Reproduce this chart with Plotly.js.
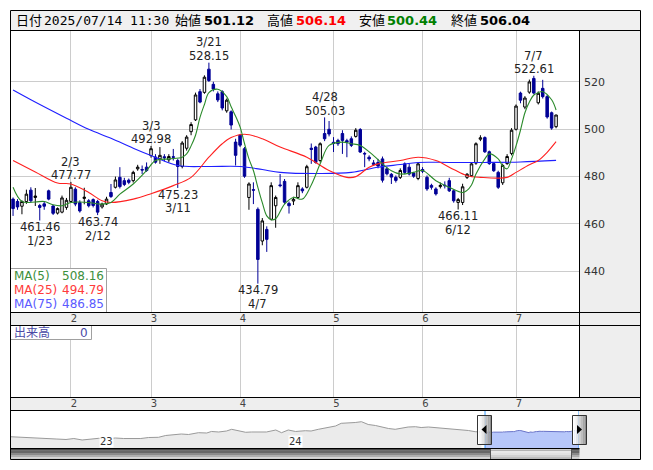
<!DOCTYPE html>
<html><head><meta charset="utf-8">
<script src="https://cdn.plot.ly/plotly-3.0.1.min.js"></script>
<style>html,body{margin:0;padding:0;background:#fff;}#chart{width:653px;height:470px;}</style>
</head><body><div id="chart"></div>
<script>
// ---------- DATA ----------
const dates = [
'2025-01-14','2025-01-15','2025-01-16','2025-01-17','2025-01-20','2025-01-21','2025-01-22','2025-01-23','2025-01-24','2025-01-27','2025-01-28','2025-01-29','2025-01-30','2025-01-31',
'2025-02-03','2025-02-04','2025-02-05','2025-02-06','2025-02-07','2025-02-10','2025-02-12','2025-02-13','2025-02-14','2025-02-17','2025-02-18','2025-02-19','2025-02-20','2025-02-21','2025-02-25','2025-02-26','2025-02-27','2025-02-28',
'2025-03-03','2025-03-04','2025-03-05','2025-03-06','2025-03-07','2025-03-10','2025-03-11','2025-03-12','2025-03-13','2025-03-14','2025-03-17','2025-03-18','2025-03-19','2025-03-21','2025-03-24','2025-03-25','2025-03-26','2025-03-27','2025-03-28','2025-03-31',
'2025-04-01','2025-04-02','2025-04-03','2025-04-04','2025-04-07','2025-04-08','2025-04-09','2025-04-10','2025-04-11','2025-04-14','2025-04-15','2025-04-16','2025-04-17','2025-04-18','2025-04-21','2025-04-22','2025-04-23','2025-04-24','2025-04-25','2025-04-28','2025-04-30',
'2025-05-01','2025-05-02','2025-05-07','2025-05-08','2025-05-09','2025-05-12','2025-05-13','2025-05-14','2025-05-15','2025-05-16','2025-05-19','2025-05-20','2025-05-21','2025-05-22','2025-05-23','2025-05-26','2025-05-27','2025-05-28','2025-05-29','2025-05-30',
'2025-06-02','2025-06-03','2025-06-04','2025-06-05','2025-06-06','2025-06-09','2025-06-10','2025-06-11','2025-06-12','2025-06-13','2025-06-16','2025-06-17','2025-06-18','2025-06-19','2025-06-20','2025-06-23','2025-06-24','2025-06-25','2025-06-26','2025-06-27','2025-06-30',
'2025-07-01','2025-07-02','2025-07-03','2025-07-04','2025-07-07','2025-07-08','2025-07-09','2025-07-10','2025-07-11','2025-07-14'];

const opens = [471.5,470.5,469.5,467.5,469.5,474.3,471.2,467.8,468.5,474,
467.6,464.6,465,467,469.5,474.7,469,470.8,469.8,470.3,
469.5,467.2,468.5,473.3,475.5,479.7,478.3,478.5,478.3,483.3,
483,484,488.9,488.3,487.5,488.4,487.1,488.4,486.8,484.3,
492,499,504,515.9,515.6,525.4,519,515,515.9,507.8,
507.4,494.6,497.5,491.8,471.2,474.5,466.2,452.8,457.7,462,
467.7,476.5,478,468.7,469.7,471.2,474.8,475.5,492,492.5,
486.8,498.2,500,494.5,495.3,498.2,495.2,496,497,499.9,
489.8,488.2,485.8,486,487.5,483.3,481,479.7,479.7,485.4,
484,481.5,479.2,483,479.7,476.3,474.8,475.8,476.4,478.3,
474,469.1,469.1,479.7,480.4,485.7,495.8,496.5,490.5,485.5,
481.8,477.4,485.5,489.8,500,515.3,509.4,515.7,521.5,511.2,
517.3,513.8,507,501.12];
const highs = [473,471.2,470.5,470,474.5,475.5,475.2,468.5,469.5,474.5,
468,467,472,471,477.77,475.5,470,475.3,470.5,470.8,
470.2,469,471.5,476.9,480,484,479.5,479.2,482.5,485,
484.7,486,492.98,489.5,492.5,489.5,489.5,491.7,487.5,495,
497.5,503,515.5,517,522.8,528.15,520.1,516,516.5,513,
508,496,498,492.5,477.6,477.6,467,462.5,459,477.6,
472,481.1,479,469.5,471.5,477.6,475.5,485,494,493,
494.5,505.03,503.5,496.7,496,499.6,496,497,500.5,500.5,
490.5,489,487,487.5,488.5,484,481.5,480.5,483.5,486,
485.5,482,486,484,480.5,477,475.5,477.5,478,479.5,
474.5,471,477,481.5,486,494.5,497.5,497,491,486,
482.5,485.5,489.5,500.5,510.5,515.9,514,521,522.61,516,
520.9,514.5,507.5,506.14];
const lows = [468.5,463.4,466,464.1,468.5,469,467.6,461.46,466,470,
463.8,464,464.5,466,469,467.5,464.8,468.3,467,467,
463.74,466.5,468,471,475,475,476,476.8,477.5,482.5,
481.1,482,488,485.5,485.4,486.5,486,486.8,475.23,483.5,
491,497.5,503.5,511,515,520,516,511.5,508,507,
499.9,484.7,492.5,479.5,466,468.4,434.79,451,448.2,461.5,
458.4,475.5,468.5,464.4,468,470.5,473,475,485.4,485.5,
486,495,497,490.4,493,489.6,488.2,492.5,496.5,490,
484,486.5,484.5,483.5,477.5,480.5,476.9,477.5,479,481,
480.5,479.5,478.5,481.5,474,474.5,472,475,475,473.5,
469,466.11,468,479,480,485,495,490,485,482,
474.8,476.5,485,489,499.5,511,508.5,515,514.8,510.5,
513,504.5,499.8,500.44];
const closes = [470.5,466.5,467.2,469.5,472.6,469.8,471.8,467,467.5,470.5,
464.5,466.5,471,470,475.5,468.4,465.5,471.3,467.7,467.8,
465,468.4,470.5,471.6,478.6,475.8,476.7,477.6,481.8,484,
482.8,482.6,491.8,486.1,489,488,488.5,488.2,484.3,494.2,
496.7,502,514.5,511.5,522,520.6,517,512.4,509,512.3,
501.8,489,493.3,480.2,476.9,474.3,445,461.3,453.5,476.2,
471.2,476.2,469.2,467.7,470.4,476.2,474,484.2,491.5,486,
493.9,496,498,494,493.9,495.3,494.6,493.2,499.6,490.4,
489.6,487.5,485.2,484.5,478.5,481.2,479.8,478.4,482.6,481.8,
481.1,480.2,485.4,482.3,474.8,475.5,472.7,476.3,476.2,474,
469.8,470.3,475.7,481,485.4,493.9,496.4,490.5,485.5,482.5,
475.5,484.7,488.5,499.6,509.8,512.3,513.2,520,515.3,515.2,
513.8,505.2,500.5,506.04];
const volumes = dates.map(() => 0);

// moving averages (day index, value)
const ma5Idx = [1,3,6,8,10,12,14,16,18,21,23,25,28,31,33,36,39,40,41,42,43,44,45,47,49,50,51,52,53,54,55,56,57,58,59,60,62,64,66,68,70,72,75,77,79,82,84,86,88,91,93,96,99,102,103,104,105,107,108,110,111,112,113,114,115,116,117,118,119,120,122,123];
const ma5Val = [475.5,469.5,469.3,469.5,468.1,467.7,469.1,469.3,469.1,468.4,469.1,472.6,476.9,482.6,486.8,487.5,488.2,489.6,493,497.5,505,510.5,515.5,516.9,513.8,509.5,505.5,501,494,487.5,482.6,475.5,469,463.4,461.8,462.2,468.4,471.2,470.5,476.5,485.4,493.2,494.6,493.9,493.2,488.9,485.4,482.5,481.1,481.8,482.6,478.3,475.5,473.3,474.2,476.5,481.1,487.5,489.6,487.5,484.5,483.3,487.5,493,499.6,507,511.5,514.5,515.5,515.9,512.5,508.16];
const ma25Idx = [1,6,11,14,18,21,23,28,32,37,41,45,48,50,53,57,61,67,72,76,78,81,83,88,92,96,100,103,106,112,114,117,119,121,123];
const ma25Val = [486.8,482,477.3,476.9,473.3,469.8,469.1,470.5,472.8,476.2,479.7,488.2,493.9,496.5,497.9,496,492.5,488.2,482.6,479.7,480,484,485.4,486.8,488.2,486.8,483,480.4,479.7,479.7,481.8,485,486.8,490.3,494.79];
const ma75Idx = [1,5,13,18,23,28,32,38,45,52,57,61,70,77,83,88,92,99,107,115,123];
const ma75Val = [516.6,512.5,504.7,500,496.2,492,488.9,484.7,484.3,484.3,483,481.8,481.3,481.8,484,485.1,486,486,486,486.2,486.85];

const monthTicks = ['2025-02-03','2025-03-03','2025-04-01','2025-05-01','2025-06-02','2025-07-01'];
const monthLabels = ['2','3','4','5','6','7'];
const priceTicks = [440,460,480,500,520];

// high/low marks
const markIdx  = [7,14,20,32,38,45,56,71,101,118];
const markType = ['low','high','low','high','low','high','low','high','low','high'];

// longer history for the navigator
const navDates = ['2022-07-14','2022-07-31','2022-08-26','2022-09-18','2022-10-11','2022-10-30','2022-11-14','2022-11-30','2022-12-17','2023-01-01','2023-01-20','2023-02-02','2023-02-18','2023-03-05','2023-03-23','2023-04-07','2023-04-26','2023-05-10','2023-05-25','2023-06-09','2023-06-23','2023-07-12','2023-07-28','2023-08-06','2023-08-20','2023-09-04','2023-09-14','2023-09-22','2023-10-11','2023-10-22','2023-11-05','2023-11-20','2023-12-08','2023-12-19','2024-01-01','2024-01-15','2024-02-03','2024-02-14','2024-02-28','2024-03-18','2024-04-01','2024-04-12','2024-04-26','2024-05-09','2024-05-21','2024-06-03','2024-06-17','2024-06-28','2024-07-12','2024-07-25','2024-08-06','2024-08-19','2024-09-02','2024-09-13','2024-09-27','2024-10-10','2024-10-22','2024-11-04','2024-11-18','2024-11-29','2024-12-13','2024-12-26','2025-01-07'];
const navVals = [336,327,312,297,268,253,282,238,253,288,282,297,282,288,282,312,318,372,386,416,401,455,446,491,476,505,556,535,467,476,485,476,535,455,535,491,514,505,556,604,654,734,743,758,782,699,669,624,580,556,595,624,633,609,624,609,595,580,556,535,520,485,476];
const yearTicks = ['2023-01-01','2024-01-01'];
const yearLabels = ['23','24'];

// ---------- LAYOUT HELPERS ----------
const W = 653, H = 470;
const px = x => x / W, py = y => 1 - y / H;
const FONT = 'DejaVu Sans, Noto Sans CJK JP, sans-serif';
function rect(x0, y0, x1, y1, fill, line, layer) {
  return {type:'rect', xref:'paper', yref:'paper', x0:px(x0), x1:px(x1), y0:py(y1), y1:py(y0),
    fillcolor: fill || 'rgba(0,0,0,0)', line:{width: line ? 1 : 0, color: line || 'rgba(0,0,0,0)'}, layer: layer || 'above'};
}
function hline(x0, x1, y, c) { return {type:'line', xref:'paper', yref:'paper', x0:px(x0), x1:px(x1), y0:py(y), y1:py(y), line:{color:c||'#000', width:1}, layer:'above'}; }
function vline(x, y0, y1, c) { return {type:'line', xref:'paper', yref:'paper', x0:px(x), x1:px(x), y0:py(y0), y1:py(y1), line:{color:c||'#000', width:1}, layer:'above'}; }
function path(d, fill) { return {type:'path', xref:'paper', yref:'paper', path:d, fillcolor:fill, line:{width:0}, layer:'above'}; }
function P(x, y) { return px(x) + ',' + py(y); }

const L = 11, R = 579, RR = 640.5;
const shapes = [];
// backgrounds
shapes.push(rect(579.5, 30.5, RR, 459.5, '#eeeeee', null, 'below'));
shapes.push(rect(10.5, 10.5, RR, 30.5, '#f0f0f0', null, 'below'));
shapes.push(rect(10.5, 312.5, RR, 325.5, '#eeeeee', null, 'below'));
shapes.push(rect(10.5, 397.5, RR, 410.5, '#eeeeee', null, 'below'));
// legend boxes
shapes.push(rect(10.5, 268.5, 106.5, 312.5, 'rgba(255,255,255,0.9)', '#a0a0a0'));
shapes.push(rect(10.5, 325.5, 91.5, 339.5, '#ffffff', '#a0a0a0'));
// scrollbar (vertical gradient imitation)
const sbDark = ['#474747','#666666','#8a8a8a','#adadad','#cdcdcd'];
const sbThumb = ['#cfcfcf','#e8e8e8','#e2e2e2','#d2d2d2','#b9b9b9'];
for (let k = 0; k < 5; k++) {
  const y0 = 448.5 + k * 2.2, y1 = y0 + 2.2;
  shapes.push(rect(10.5, y0, 579.5, y1, sbDark[k], null));
  shapes.push(rect(490.5, y0, 571.5, y1, sbThumb[k], null));
}
shapes.push(vline(490.5, 448.5, 459.5, '#555'));
shapes.push(vline(571.5, 448.5, 459.5, '#555'));
// selection lines in the navigator
shapes.push({type:'line', xref:'x3', yref:'paper', x0:dates[0], x1:dates[0], y0:py(448), y1:py(411), line:{color:'#3399ff', width:1}, layer:'above'});
shapes.push({type:'line', xref:'x3', yref:'paper', x0:dates[dates.length-1], x1:dates[dates.length-1], y0:py(448), y1:py(411), line:{color:'#3399ff', width:1}, layer:'above'});
// handles
const hG = ['#ffffff','#f6f6f6','#e6e6e6','#d2d2d2','#bdbdbd','#a6a6a6','#8f8f8f'];
[477.5, 572.5].forEach(hx => {
  for (let k = 0; k < 7; k++) shapes.push(rect(hx + k * 2, 415.5, hx + k * 2 + 2, 444.5, hG[k], null));
  shapes.push(rect(hx, 415.5, hx + 14, 444.5, null, '#333333'));
});
shapes.push(path('M' + P(486.5,425) + ' L' + P(481.5,429.5) + ' L' + P(486.5,434) + ' Z', '#000'));
shapes.push(path('M' + P(577,425) + ' L' + P(582,429.5) + ' L' + P(577,434) + ' Z', '#000'));
// frame lines
[30.5, 312.5, 325.5, 397.5, 410.5].forEach(y => shapes.push(hline(10.5, RR, y)));
shapes.push(hline(10.5, 579.5, 448.5));
shapes.push(vline(579.5, 30.5, 397.5));
shapes.push(rect(10.5, 10.5, RR, 459.5, null, '#000000'));

// ---------- ANNOTATIONS ----------
const ann = [];
function txt(x, y, t, opt) {
  opt = opt || {};
  ann.push(Object.assign({xref:'paper', yref:'paper', x:px(x), y:py(y), text:t, showarrow:false,
    xanchor:'left', yanchor:'middle', font:{family:FONT, size:12, color:'#000'}}, opt));
}
const last = dates.length - 1;
const hdrF = {family:FONT, size:13, color:'#000'};
const bold = c => ({family:'DejaVu Sans, sans-serif', size:13, color:c, weight:'bold'});
txt(14, 20.5, '日付', {font:hdrF});
txt(42, 20.5, dates[last].replace(/-/g,'/') + ' 11:30', {font:{family:'DejaVu Sans Mono, monospace', size:13, color:'#000'}});
txt(173, 20.5, '始値', {font:hdrF});
txt(202, 20.5, '<b>' + opens[last].toFixed(2) + '</b>', {font:bold('#000')});
txt(265, 20.5, '高値', {font:hdrF});
txt(294, 20.5, '<b>' + highs[last].toFixed(2) + '</b>', {font:bold('#ff0000')});
txt(357, 20.5, '安値', {font:hdrF});
txt(385, 20.5, '<b>' + lows[last].toFixed(2) + '</b>', {font:bold('#008000')});
txt(449, 20.5, '終値', {font:hdrF});
txt(478, 20.5, '<b>' + closes[last].toFixed(2) + '</b>', {font:bold('#000')});

// MA legend
const maRows = [['MA(5)', ma5Val, '#3c8f3c'], ['MA(25)', ma25Val, '#ff3b3b'], ['MA(75)', ma75Val, '#5a5aff']];
maRows.forEach((r, k) => {
  const y = 275.5 + k * 14.2;
  txt(11.5, y, r[0], {font:{family:FONT, size:12, color:r[2]}});
  txt(105.5, y, r[1][r[1].length - 1].toFixed(2), {xanchor:'right', font:{family:FONT, size:12, color:r[2]}});
});
txt(11.5, 332.5, '出来高', {font:{family:FONT, size:12, color:'#4a4aa6'}});
txt(90, 332.5, String(volumes[last]), {xanchor:'right', font:{family:FONT, size:12, color:'#4a4aa6'}});

// high / low labels
markIdx.forEach((i, k) => {
  const d = dates[i];
  const md = parseInt(d.slice(5,7), 10) + '/' + parseInt(d.slice(8,10), 10);
  const isHigh = markType[k] === 'high';
  const v = isHigh ? highs[i] : lows[i];
  const base = {xref:'x', yref:'y', x:d, y:v, showarrow:false, xanchor:'center', yanchor:'middle',
    borderpad:0, font:{family:FONT, size:11.5, color:'#222'}};
  ann.push(Object.assign({}, base, {text:v.toFixed(2), yshift: isHigh ? 6.6 : -6.8}));
  ann.push(Object.assign({}, base, {text:md, yshift: isHigh ? 20.2 : -20.4}));
});
// navigator year labels
yearTicks.forEach((d, k) => {
  ann.push({xref:'x3', yref:'paper', x:d, y:py(441.5), text:yearLabels[k], showarrow:false,
    xanchor:'left', yanchor:'middle', bgcolor:'#ffffff', borderpad:0, font:{family:FONT, size:10, color:'#333'}});
});

// ---------- TRACES ----------
const pick = (idx) => idx.map(i => dates[i]);
const traces = [
  {type:'candlestick', x:dates, open:opens, high:highs, low:lows, close:closes, xaxis:'x', yaxis:'y',
   increasing:{line:{color:'#000000', width:1}, fillcolor:'#ffffff'},
   decreasing:{line:{color:'#000096', width:1}, fillcolor:'#000096'},
   whiskerwidth:0, hoverinfo:'skip', showlegend:false},
  {type:'scatter', mode:'lines', x:pick(ma75Idx), y:ma75Val, line:{color:'#1f1fff', width:1.1, shape:'spline'}, xaxis:'x', yaxis:'y', hoverinfo:'skip'},
  {type:'scatter', mode:'lines', x:pick(ma25Idx), y:ma25Val, line:{color:'#ff2020', width:1.1, shape:'spline'}, xaxis:'x', yaxis:'y', hoverinfo:'skip'},
  {type:'scatter', mode:'lines', x:pick(ma5Idx), y:ma5Val, line:{color:'#2a8a2a', width:1.1, shape:'spline'}, xaxis:'x', yaxis:'y', hoverinfo:'skip'},
  {type:'bar', x:dates, y:volumes, xaxis:'x2', yaxis:'y2', marker:{color:'#4a4aa6'}, hoverinfo:'skip'},
  {type:'scatter', mode:'lines', x:navDates, y:navVals, xaxis:'x3', yaxis:'y3', fill:'tozeroy', fillcolor:'#ebebeb', line:{color:'#9a9a9a', width:1}, hoverinfo:'skip'},
  {type:'scatter', mode:'lines', x:dates, y:closes, xaxis:'x3', yaxis:'y3', fill:'tozeroy', fillcolor:'#b7c7fa', line:{color:'#6a74c8', width:1}, hoverinfo:'skip'}
];

const xdom = [px(L), px(R)];
const catRange = [(L - 8.6) / 4.451, (R - 8.6) / 4.451];
const tickF = {family:FONT, size:10, color:'#444'};
const layout = {
  width:W, height:H, autosize:false, margin:{l:0, r:0, t:0, b:0},
  paper_bgcolor:'#ffffff', plot_bgcolor:'#ffffff', showlegend:false,
  xaxis:{type:'category', domain:xdom, anchor:'y', range:catRange, tickvals:monthTicks, ticktext:monthLabels,
    showgrid:true, gridcolor:'#cccccc', gridwidth:1, ticks:'', showline:false, zeroline:false,
    tickfont:tickF, ticklabelshift:3, ticklabelstandoff:-1, rangeslider:{visible:false}, fixedrange:true},
  yaxis:{domain:[py(312), py(31)], anchor:'x', side:'right', range:[422.81, 541.53], tickvals:priceTicks,
    showgrid:true, gridcolor:'#cccccc', gridwidth:1, ticks:'', showline:false, zeroline:false,
    tickfont:{family:FONT, size:11, color:'#333'}, ticklabelstandoff:4, fixedrange:true},
  xaxis2:{type:'category', domain:xdom, anchor:'y2', range:catRange, tickvals:monthTicks, ticktext:monthLabels,
    showgrid:true, gridcolor:'#cccccc', gridwidth:1, ticks:'', showline:false, zeroline:false,
    tickfont:tickF, ticklabelshift:3, ticklabelstandoff:-1, fixedrange:true},
  yaxis2:{domain:[py(397), py(326)], anchor:'x2', range:[0, 1], showgrid:false, showticklabels:false, ticks:'', zeroline:false, showline:false, fixedrange:true},
  xaxis3:{type:'date', domain:xdom, anchor:'y3', range:['2022-07-16', dates[last]], showgrid:false, showticklabels:false, ticks:'', zeroline:false, showline:false, fixedrange:true},
  yaxis3:{domain:[py(448), py(411)], anchor:'x3', range:[0, 1100], showgrid:false, showticklabels:false, ticks:'', zeroline:false, showline:false, fixedrange:true},
  shapes:shapes, annotations:ann, bargap:0.3, boxgap:0.2
};
Plotly.newPlot('chart', traces, layout, {staticPlot:true, displayModeBar:false});
</script>
</body></html>
